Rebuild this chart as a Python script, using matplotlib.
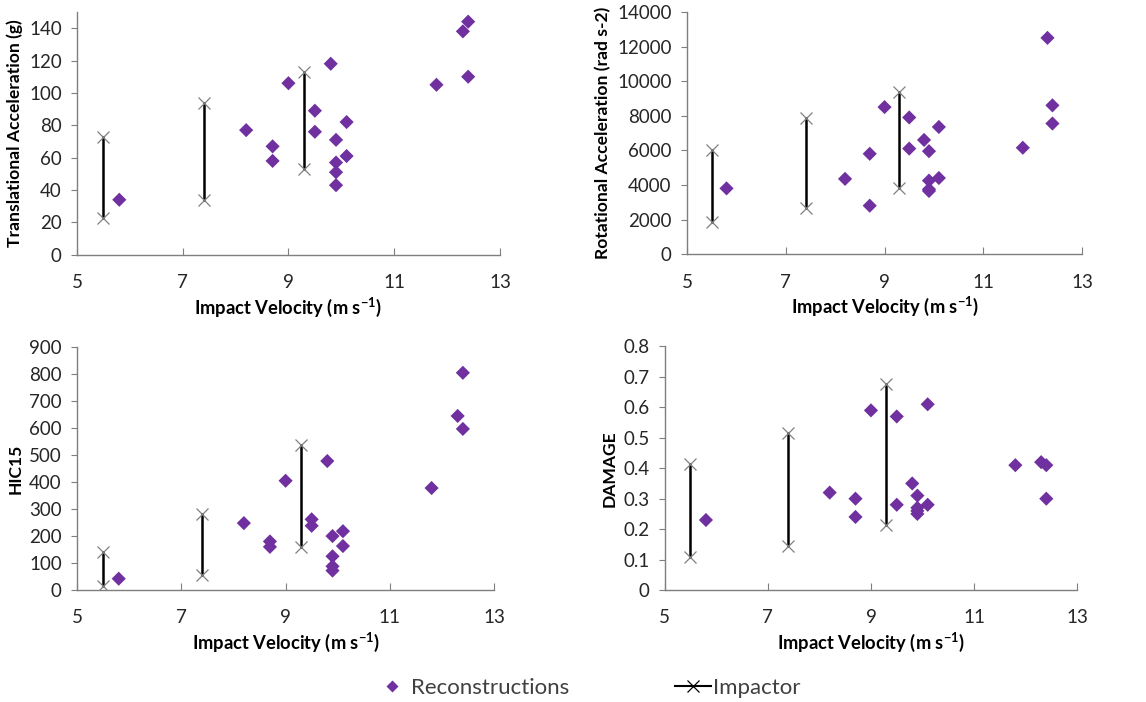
import numpy as np
import matplotlib.pyplot as plt
from matplotlib.lines import Line2D

plt.rcParams['font.family'] = ['Lato', 'DejaVu Sans']

# reconstruction cases
recon_v = [5.8, 8.2, 8.7, 8.7, 9.0, 9.5, 9.5, 9.8, 9.9, 9.9, 9.9, 9.9, 10.1, 10.1, 11.8, 12.3, 12.4, 12.4]
recon_lin = [34, 77, 67, 58, 106, 89, 76, 118, 71, 57, 51, 43, 82, 61, 105, 138, 144, 110]
recon_rot = [3800, 4350, 5800, 2800, 8500, 7900, 6100, 6600, 5950, 4250, 3750, 3650, 7350, 4400, 6150, 12500, 8600, 7550]
recon_hic = [42, 248, 180, 160, 405, 262, 238, 478, 200, 125, 88, 72, 218, 163, 378, 645, 805, 597]
recon_dmg = [0.23, 0.32, 0.30, 0.24, 0.59, 0.57, 0.28, 0.35, 0.31, 0.27, 0.26, 0.25, 0.61, 0.28, 0.41, 0.42, 0.41, 0.30]

# impactor tests: min / max at each velocity
imp_v = [5.5, 7.4, 9.3]
imp_lin_lo = [23, 34, 53]
imp_lin_hi = [73, 94, 113]
imp_rot_lo = [1850, 2650, 3850]
imp_rot_hi = [6000, 7850, 9400]
imp_hic_lo = [15, 57, 160]
imp_hic_hi = [140, 280, 537]
imp_dmg_lo = [0.11, 0.145, 0.215]
imp_dmg_hi = [0.415, 0.515, 0.675]

purple = '#7030A0'
grey = '#808080'
axis_grey = '#7f7f7f'

fig = plt.figure(figsize=(11.46, 7.02), dpi=100)

panels = [
    ([0.0672, 0.637, 0.369, 0.346], recon_lin, imp_lin_lo, imp_lin_hi,
     'Translational Acceleration (g)', (0, 150), np.arange(0, 141, 20), '{:.0f}'),
    ([0.5995, 0.638, 0.3447, 0.345], recon_rot, imp_rot_lo, imp_rot_hi,
     'Rotational Acceleration (rad s-2)', (0, 14000), np.arange(0, 14001, 2000), '{:.0f}'),
    ([0.0672, 0.1595, 0.364, 0.346], recon_hic, imp_hic_lo, imp_hic_hi,
     'HIC15', (0, 900), np.arange(0, 901, 100), '{:.0f}'),
    ([0.580, 0.1595, 0.360, 0.347], recon_dmg, imp_dmg_lo, imp_dmg_hi,
     'DAMAGE', (0, 0.8), np.arange(0, 0.81, 0.1), '{:g}'),
]

for rect, recon, lo, hi, ylabel, ylim, yticks, fmt in panels:
    ax = fig.add_axes(rect)
    for v, a, b in zip(imp_v, lo, hi):
        ax.plot([v, v], [a, b], color='black', lw=1.8, zorder=2)
        ax.plot([v, v], [a, b], ls='none', marker='x', ms=9, mew=0.9,
                color=grey, zorder=3)
    ax.scatter(recon_v, recon, marker='D', s=52, color=purple, zorder=4,
               edgecolors='none')
    ax.set_xlim(5, 13)
    ax.set_ylim(*ylim)
    ax.set_xticks([5, 7, 9, 11, 13])
    ax.set_yticks(yticks)
    ax.set_yticklabels([fmt.format(t) for t in yticks])
    for s in ['top', 'right']:
        ax.spines[s].set_visible(False)
    for s in ['left', 'bottom']:
        ax.spines[s].set_color(axis_grey)
        ax.spines[s].set_linewidth(1.0)
    ax.tick_params(axis='x', direction='in', length=5, color=axis_grey,
                   labelsize=13.5, pad=14, labelcolor='#262626')
    ax.tick_params(axis='y', direction='out', length=4, color=axis_grey,
                   labelsize=13.5, pad=7, labelcolor='#262626')
    ax.set_xlabel('Impact Velocity (m s$^{\\mathregular{-1}}$)', fontsize=13.2,
                  fontweight='bold', labelpad=3)
    ax.set_ylabel(ylabel, fontsize=12.6, fontweight='bold', labelpad=4)

W = 1146
recon_handle = Line2D([], [], ls='none', marker='D', ms=6.5, color=purple, mec='none')
imp_handle = Line2D([], [], color='black', lw=1.5, marker='x', ms=9,
                    mec='black', mew=0.9)
fig.legend([recon_handle], ['Reconstructions'], loc='center left',
           bbox_to_anchor=(381 / W, 0.02), frameon=False, fontsize=16,
           handlelength=1.0, handletextpad=0.35, borderpad=0, borderaxespad=0,
           labelcolor='#404040')
fig.legend([imp_handle], ['Impactor'], loc='center left',
           bbox_to_anchor=(675 / W, 0.02), frameon=False, fontsize=16,
           handlelength=1.6, handletextpad=0.1, borderpad=0, borderaxespad=0,
           labelcolor='#404040')

fig.savefig('out.png', dpi=100)
